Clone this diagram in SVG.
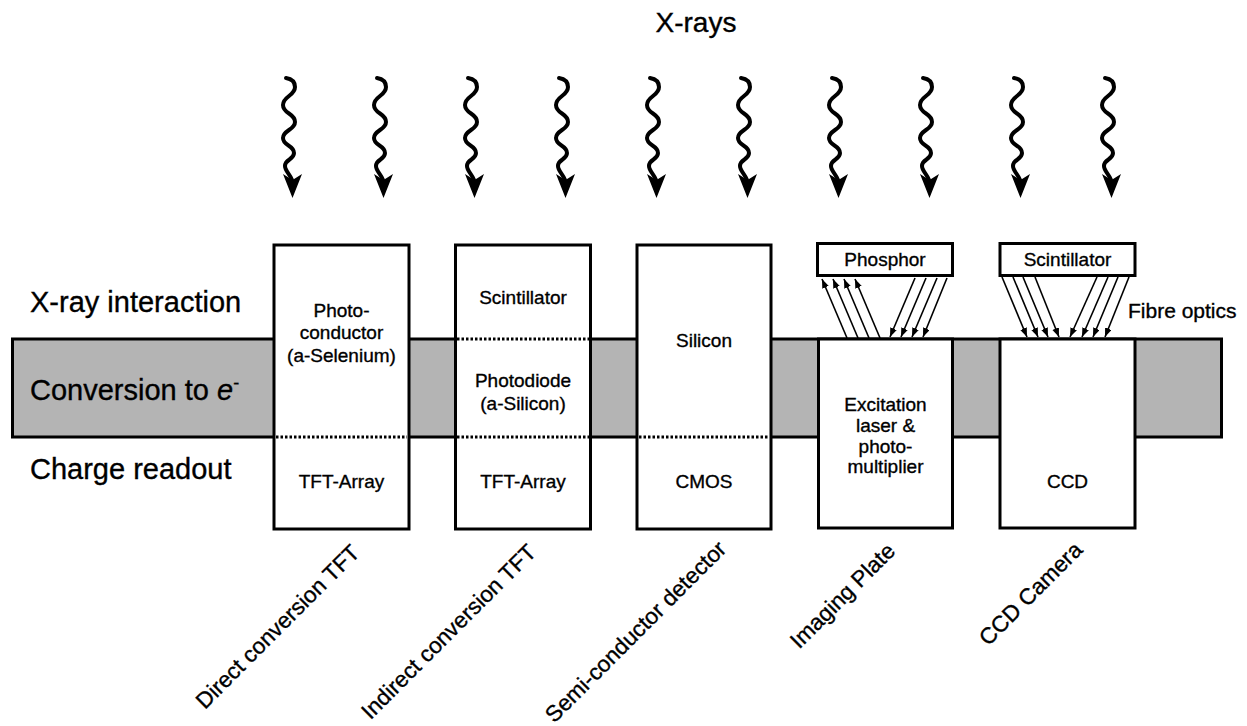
<svg xmlns="http://www.w3.org/2000/svg" xmlns:xlink="http://www.w3.org/1999/xlink" width="1247" height="726" viewBox="0 0 1247 726">
<style>
.box{fill:#fff;stroke:#000;stroke-width:3}
.band{fill:#b4b4b4;stroke:#000;stroke-width:3}
.dot{stroke:#000;stroke-width:3;stroke-dasharray:2.5 2;fill:none}
.t{font-family:"Liberation Sans",Arial,sans-serif;fill:#000;stroke:#000;stroke-width:0.35}
.side{font-size:29px}
.bt{font-size:19px;text-anchor:middle}
.diag{font-size:22.5px;text-anchor:middle}
.wave{fill:none;stroke:#000;stroke-width:4;stroke-linecap:round}
.ray{stroke:#000;stroke-width:1.6;fill:none;marker-end:url(#ah)}
</style>
<defs>
<marker id="ah" markerUnits="userSpaceOnUse" markerWidth="10" markerHeight="8" refX="9" refY="3.5" orient="auto">
<path d="M0,0 L9,3.5 L0,7 Z" fill="#000"/>
</marker>
<g id="xr">
<path class="wave" d="M286,78 C292,79 295,82 295,87 C295,96 283,96 283,105 C283,114 295,113 295,122 C295,130 283,130 283,138 C283,146 294,145 294,153 C294,160 285,159 285,166 C285,171 290,174 292,180"/>
<polygon points="283,174 292.5,180 302,174 292.5,198" fill="#000"/>
</g>
</defs>

<text class="t" x="696" y="32" font-size="28" text-anchor="middle">X-rays</text>

<g id="xrays">
<use xlink:href="#xr"/>
<use xlink:href="#xr" transform="translate(91,0)"/>
<use xlink:href="#xr" transform="translate(182,0)"/>
<use xlink:href="#xr" transform="translate(273,0)"/>
<use xlink:href="#xr" transform="translate(364,0)"/>
<use xlink:href="#xr" transform="translate(455,0)"/>
<use xlink:href="#xr" transform="translate(546,0)"/>
<use xlink:href="#xr" transform="translate(637,0)"/>
<use xlink:href="#xr" transform="translate(728,0)"/>
<use xlink:href="#xr" transform="translate(819,0)"/>
</g>

<g id="band">
<rect class="band" x="12.5" y="339" width="1209" height="98"/>
</g>

<g id="labels">
<text class="t side" x="30" y="312">X-ray interaction</text>
<text class="t side" x="30" y="400">Conversion to <tspan font-style="italic">e</tspan><tspan font-size="18" dy="-11">-</tspan></text>
<text class="t side" x="30" y="479">Charge readout</text>
</g>

<g id="direct">
<rect class="box" x="274" y="245" width="135" height="284"/>
<line class="dot" x1="276" y1="437" x2="407" y2="437"/>
<text class="t bt" x="341.5" y="317">Photo-</text>
<text class="t bt" x="341.5" y="339">conductor</text>
<text class="t bt" x="341.5" y="362">(a-Selenium)</text>
<text class="t bt" x="341.5" y="488">TFT-Array</text>
<text class="t diag" transform="translate(283,632) rotate(-45)">Direct conversion TFT</text>
</g>

<g id="indirect">
<rect class="box" x="455.5" y="245" width="135" height="284"/>
<line class="dot" x1="457" y1="339" x2="589" y2="339"/>
<line class="dot" x1="457" y1="437" x2="589" y2="437"/>
<text class="t bt" x="523" y="304">Scintillator</text>
<text class="t bt" x="523" y="387">Photodiode</text>
<text class="t bt" x="523" y="410">(a-Silicon)</text>
<text class="t bt" x="523" y="488">TFT-Array</text>
<text class="t diag" transform="translate(454,637) rotate(-45)">Indirect conversion TFT</text>
</g>

<g id="semi">
<rect class="box" x="637" y="245" width="134" height="284"/>
<line class="dot" x1="639" y1="437" x2="769" y2="437"/>
<text class="t bt" x="704" y="347">Silicon</text>
<text class="t bt" x="704" y="488">CMOS</text>
<text class="t diag" transform="translate(641,637) rotate(-45)">Semi-conductor detector</text>
</g>

<g id="imaging">
<rect class="box" x="818.5" y="339" width="134" height="189"/>
<rect class="box" x="817.5" y="243.5" width="135" height="32"/>
<text class="t bt" x="885" y="266">Phosphor</text>
<text class="t bt" x="885.5" y="411">Excitation</text>
<text class="t bt" x="885.5" y="432">laser &amp;</text>
<text class="t bt" x="885.5" y="453">photo-</text>
<text class="t bt" x="885.5" y="473">multiplier</text>
<text class="t diag" transform="translate(848,601) rotate(-45)">Imaging Plate</text>
</g>

<g id="ccd">
<rect class="box" x="1000" y="339" width="135" height="189"/>
<rect class="box" x="1000" y="243.5" width="135" height="32"/>
<text class="t bt" x="1067.5" y="266">Scintillator</text>
<text class="t bt" x="1067.5" y="488">CCD</text>
<text class="t" x="1128" y="318" font-size="21">Fibre optics</text>
<text class="t diag" transform="translate(1036,599) rotate(-45)">CCD Camera</text>
</g>

<g id="connectors">
<line class="ray" x1="847" y1="338" x2="822" y2="279"/>
<line class="ray" x1="858" y1="338" x2="833" y2="279"/>
<line class="ray" x1="869" y1="338" x2="844" y2="279"/>
<line class="ray" x1="880" y1="338" x2="855" y2="279"/>
<line class="ray" x1="915" y1="278" x2="890" y2="337"/>
<line class="ray" x1="926" y1="278" x2="901" y2="337"/>
<line class="ray" x1="937" y1="278" x2="912" y2="337"/>
<line class="ray" x1="947" y1="278" x2="923" y2="337"/>
<line class="ray" x1="1002" y1="277" x2="1027" y2="337"/>
<line class="ray" x1="1013" y1="277" x2="1038" y2="337"/>
<line class="ray" x1="1023" y1="277" x2="1048" y2="337"/>
<line class="ray" x1="1035" y1="277" x2="1059" y2="337"/>
<line class="ray" x1="1097" y1="277" x2="1070" y2="337"/>
<line class="ray" x1="1108" y1="277" x2="1082" y2="337"/>
<line class="ray" x1="1118" y1="277" x2="1093" y2="337"/>
<line class="ray" x1="1129" y1="277" x2="1105" y2="337"/>
</g>
</svg>
